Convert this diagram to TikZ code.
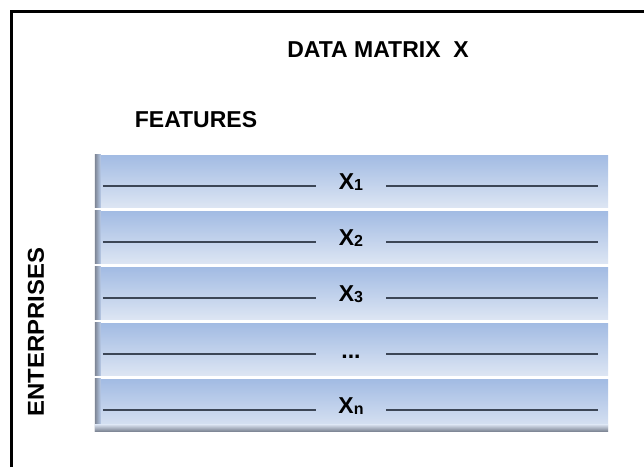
\documentclass[tikz,border=0pt]{standalone}
\usepackage{fontspec}
\setmainfont{Liberation Sans}
\usetikzlibrary{calc}
\definecolor{bartop}{HTML}{A2BBE3}
\definecolor{barbot}{HTML}{DCE5F3}
\definecolor{edgegray}{HTML}{7D8594}
\definecolor{rulegray}{HTML}{3C4656}
\tikzset{
  bar/.style={minimum width=513pt, minimum height=52pt, inner sep=0pt, draw=none,
    top color=bartop, bottom color=barbot},
  lbl/.style={font=\fontsize{23}{23}\selectfont\bfseries, inner sep=0pt, text height=16pt, text depth=2pt},
  rule/.style={draw=rulegray, line width=1.8pt},
  head/.style={font=\fontsize{23}{23}\selectfont\bfseries, inner sep=0pt}
}
\newcommand{\xsub}[1]{X\raisebox{-1.5pt}{\fontsize{16}{16}\selectfont #1}}
\begin{document}
\begin{tikzpicture}[x=1pt,y=-1pt]
\useasboundingbox (0,0) rectangle (644,467);
\fill[white] (0,0) rectangle (644,467);
\draw[line width=3pt] (11,467) -- (11,11) -- (644,11);

\node[head] (title) at (378,50) {DATA MATRIX\ \ X};
\node[head] (feat) at (196,120) {FEATURES};
\node[head, rotate=90, xscale=1.04] (ent) at (36,332) {ENTERPRISES};

\foreach \i/\t in {1/{\xsub{1}},2/{\xsub{2}},3/{\xsub{3}},4/{\raisebox{-1pt}{...}},5/{\xsub{n}}} {
  \pgfmathsetmacro{\cy}{181+56*(\i-1)}
  \node[bar] (r\i) at (351.5,\cy) {};
  \shade[left color=edgegray, right color=bartop!60!barbot] (r\i.north west) rectangle ($(r\i.south west)+(6,0)$);
  \node[lbl] (l\i) at (351,\cy+1) {\t};
  \draw[rule] ($(r\i.west)+(8,5)$) -- ($(l\i.center)+(-35,4)$);
  \draw[rule] ($(l\i.center)+(35,4)$) -- ($(r\i.east)+(-10,5)$);
}
\shade[top color=barbot, bottom color=edgegray] ($(r5.south west)+(0,-7)$) rectangle (r5.south east);
\end{tikzpicture}
\end{document}
